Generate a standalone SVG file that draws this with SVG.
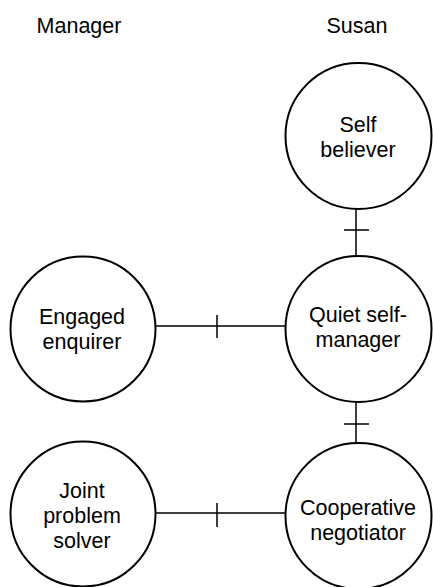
<svg xmlns="http://www.w3.org/2000/svg" width="433" height="587" viewBox="0 0 433 587">
<style>
.n{fill:#fff;stroke:#000;stroke-width:2}
.c{stroke:#000;stroke-width:1.5;fill:none}
text{font-family:"Liberation Sans",Arial,sans-serif;font-size:21.5px;fill:#000;text-anchor:middle}
</style>
<rect width="433" height="587" fill="#fff"/>
<g id="headers">
<text x="79" y="33">Manager</text>
<text x="357" y="33">Susan</text>
</g>
<g id="connectors">
<path class="c" d="M356 209V256M344 230H369"/>
<path class="c" d="M356 402V443M344 424H369"/>
<path class="c" d="M155 326H299M217 315V338"/>
<path class="c" d="M155 513H285M217 503V527"/>
</g>
<g id="self-believer">
<circle class="n" cx="358.5" cy="136" r="73"/>
<text x="358" y="132">Self</text>
<text x="358" y="157">believer</text>
</g>
<g id="quiet-self-manager">
<circle class="n" cx="358.5" cy="329" r="73"/>
<text x="358" y="322">Quiet self-</text>
<text x="358" y="347">manager</text>
</g>
<g id="cooperative-negotiator">
<circle class="n" cx="358.5" cy="516" r="73"/>
<text x="358" y="515">Cooperative</text>
<text x="358" y="540">negotiator</text>
</g>
<g id="engaged-enquirer">
<circle class="n" cx="83" cy="329" r="72.5"/>
<text x="82" y="324">Engaged</text>
<text x="82" y="349">enquirer</text>
</g>
<g id="joint-problem-solver">
<circle class="n" cx="83" cy="514" r="72.5"/>
<text x="82" y="498">Joint</text>
<text x="82" y="523">problem</text>
<text x="82" y="548">solver</text>
</g>
</svg>
